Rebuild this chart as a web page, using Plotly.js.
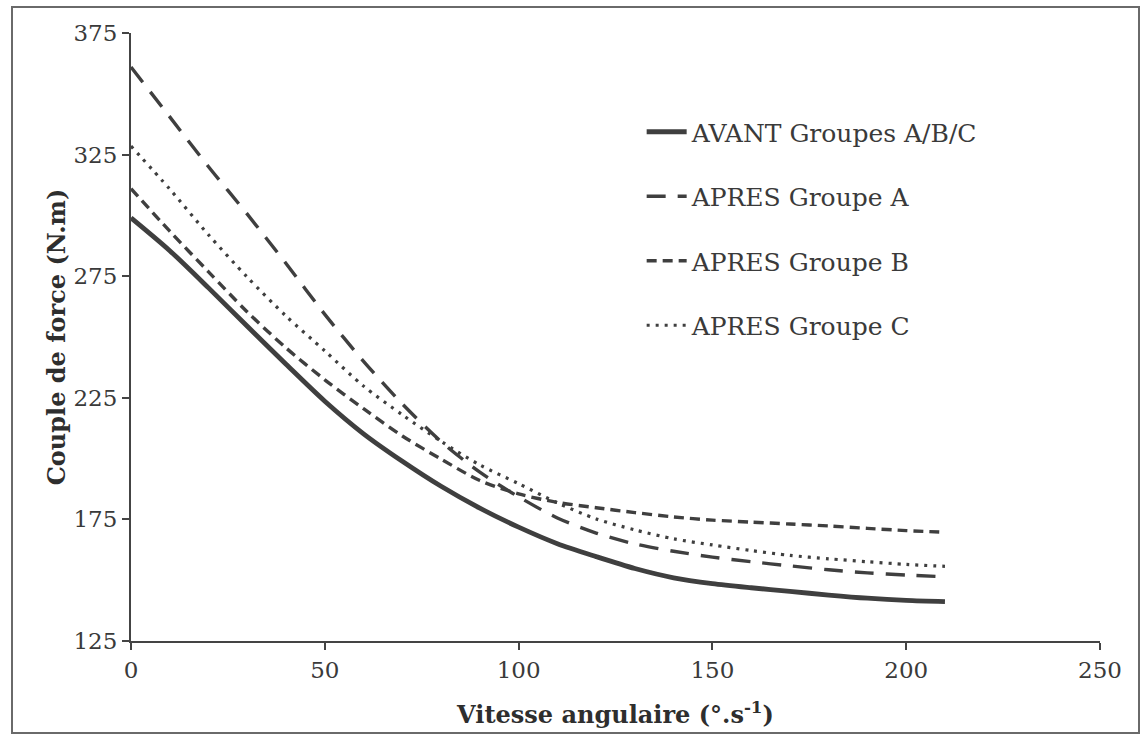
<!DOCTYPE html>
<html>
<head>
<meta charset="utf-8">
<script src="https://cdn.plot.ly/plotly-3.0.1.min.js"></script>
<style>
  html, body { margin: 0; padding: 0; background: #fff; }
  #wrap { position: relative; width: 1143px; height: 737px; }
  #chart { position: absolute; left: 0; top: 0; width: 1143px; height: 737px; }
  #frame { position: absolute; left: 11px; top: 6px; width: 1125px; height: 724px;
           border: 2px solid #6a6a6a; pointer-events: none; }
</style>
</head>
<body>
<div id="wrap"><div id="chart"></div><div id="frame"></div></div>
<script>
// angular velocity (°/s)
const vitesse = [0, 10, 20, 30, 40, 50, 60, 70, 80, 90, 100, 110, 120, 130, 140, 150, 160, 170, 180, 190, 200, 210];
// torque (N.m)
const avant   = [299, 285.5, 270.2, 254.4, 238.8, 223.6, 210.2, 198.9, 188.6, 179.6, 171.8, 165, 159.7, 154.8, 151, 148.6, 146.9, 145.4, 143.9, 142.6, 141.7, 141.2];
const apresA  = [361, 340.5, 320, 300.5, 280.2, 259.3, 240, 222.5, 207, 194.4, 184.3, 175.6, 169.4, 164.9, 161.9, 159.5, 157.6, 155.9, 154.3, 153, 152.1, 151.4];
const apresB  = [311, 293.5, 276.8, 260.3, 245.5, 232.4, 220.5, 209.3, 199.8, 191, 185.5, 182, 179.8, 177.8, 176, 174.7, 173.9, 173.1, 172.3, 171.3, 170.4, 169.7];
const apresC  = [328.5, 310.8, 292, 274.6, 258.6, 244.3, 229.8, 218, 207.1, 197.4, 189.7, 181.8, 175.2, 170.7, 167, 164.5, 162.2, 160.2, 158.8, 157.6, 156.5, 155.7];
const seriesNames = ["AVANT Groupes A/B/C", "APRES Groupe A", "APRES Groupe B", "APRES Groupe C"];
const xTicks = [0, 50, 100, 150, 200, 250];
const yTicks = [125, 175, 225, 275, 325, 375];

const FONT = '"DejaVu Serif", serif';
const LC = '#3f3f3f';

const traces = [
  { x: vitesse, y: avant,  name: seriesNames[0], legendgroup: 'g0',
    line: { color: LC, width: 4.8, dash: 'solid', shape: 'spline', smoothing: 0.8 } },
  { x: vitesse, y: apresA, name: seriesNames[1], legendgroup: 'g1',
    line: { color: LC, width: 3.4, dash: '19px,12px', shape: 'spline', smoothing: 0.8 } },
  { x: vitesse, y: apresB, name: seriesNames[2], legendgroup: 'g2',
    line: { color: LC, width: 3.4, dash: '10px,6px', shape: 'spline', smoothing: 0.8 } },
  { x: vitesse, y: apresC, name: seriesNames[3], legendgroup: 'g3',
    line: { color: LC, width: 3.2, dash: '3px,6px', shape: 'spline', smoothing: 0.8 } }
].map(t => Object.assign({ type: 'scatter', mode: 'lines', hoverinfo: 'skip' }, t));

const layout = {
  width: 1143, height: 737,
  margin: { l: 131, r: 43, t: 33, b: 96 },
  paper_bgcolor: '#ffffff', plot_bgcolor: '#ffffff',
  font: { family: FONT, color: '#3a3a3a', size: 23 },
  showlegend: true,
  legend: {
    x: 0.527, y: 0.875, xanchor: 'left', yanchor: 'top',
    bgcolor: 'rgba(0,0,0,0)', borderwidth: 0,
    font: { family: FONT, size: 25, color: '#3a3a3a' },
    tracegroupgap: 29, itemwidth: 40
  },
  xaxis: {
    range: [0, 250], tickvals: xTicks, ticktext: xTicks.map(String),
    showgrid: false, zeroline: false, showline: true, linecolor: '#444', linewidth: 2,
    ticks: 'outside', ticklen: 7, tickwidth: 2, tickcolor: '#444',
    tickfont: { family: FONT, size: 23, color: '#3a3a3a' },
    title: { text: '<b>Vitesse angulaire (°.s<sup>-1</sup>)</b>', standoff: 25,
             font: { family: FONT, size: 24, color: '#2e2e2e' } }
  },
  yaxis: {
    range: [125, 375], tickvals: yTicks, ticktext: yTicks.map(String),
    showgrid: false, zeroline: false, showline: true, linecolor: '#444', linewidth: 2,
    ticks: 'outside', ticklen: 7, tickwidth: 2, tickcolor: '#444',
    tickfont: { family: FONT, size: 23, color: '#3a3a3a' },
    title: { text: '<b>Couple de force (N.m)</b>', standoff: 1,
             font: { family: FONT, size: 24, color: '#2e2e2e' } }
  }
};

Plotly.newPlot('chart', traces, layout, { displayModeBar: false, staticPlot: true });
</script>
</body>
</html>
